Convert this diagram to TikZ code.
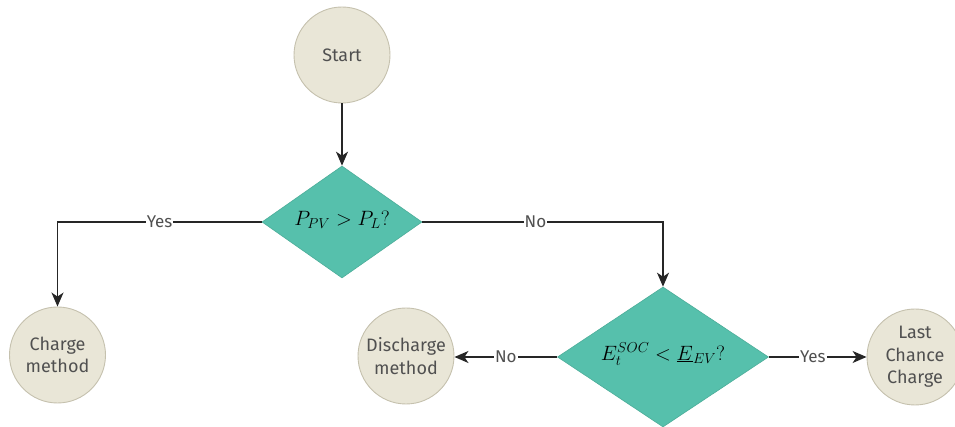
\documentclass[tikz,border=0pt]{standalone}
\usepackage{fontspec}
\setsansfont{Fira Sans}
\usetikzlibrary{shapes.geometric,arrows.meta}
\definecolor{circfill}{HTML}{E9E6D7}
\definecolor{circline}{HTML}{C5C1AE}
\definecolor{diafill}{HTML}{56C0AC}
\definecolor{dialine}{HTML}{4CAD99}
\definecolor{txtgray}{HTML}{505050}
\newcommand{\zerobox}[1]{\raisebox{-0.3em}{\smash{\makebox[0pt]{#1}}}}
\tikzset{
  x=1pt,y=1pt,
  roundnode/.style={circle,draw=circline,fill=circfill,line width=0.9pt,minimum size=96pt,inner sep=0pt,
    font=\sffamily\fontsize{18}{22.5}\selectfont,text=txtgray,align=center},
  decision/.style={diamond,draw=dialine,fill=diafill,line width=0.6pt,inner sep=0pt,font=\fontsize{22}{26}\selectfont},
  conn/.style={line width=1.4pt,color=black!85,-{Stealth[length=14pt,width=12pt,inset=4pt]}},
  lbl/.style={fill=white,inner sep=1pt,font=\sffamily\fontsize{17}{19}\selectfont,text=txtgray}
}
\begin{document}
\begin{tikzpicture}
\useasboundingbox (0,0) rectangle (955,427);
\node[roundnode] (start) at (342,372) {Start};
\node[decision,minimum width=160pt,minimum height=112pt] (d1) at (342,205) {\zerobox{$P_{PV} > P_L?$}};
\node[roundnode] (charge) at (57.5,72) {Charge\\method};
\node[decision,minimum width=211pt,minimum height=140pt] (d2) at (663,70) {\zerobox{$E_t^{SOC} < \underline{E}_{EV}?$}};
\node[roundnode] (dis) at (406,71) {Discharge\\method};
\node[roundnode] (lcc) at (915,70) {Last\\Chance\\Charge};
\coordinate (c1) at (57.5,205);
\coordinate (c2) at (663,205);
\draw[conn] (start) -- (d1);
\draw[conn] (d1.west) -- node[lbl,pos=0.5]{Yes} (c1) -- (charge);
\draw[conn] (d1.east) -- node[lbl,pos=0.47]{No} (c2) -- (d2.north);
\draw[conn] (d2.west) -- node[lbl,pos=0.5]{No} (d2.west -| dis.east);
\draw[conn] (d2.east) -- node[lbl,pos=0.45]{Yes} (d2.east -| lcc.west);
\end{tikzpicture}
\end{document}
